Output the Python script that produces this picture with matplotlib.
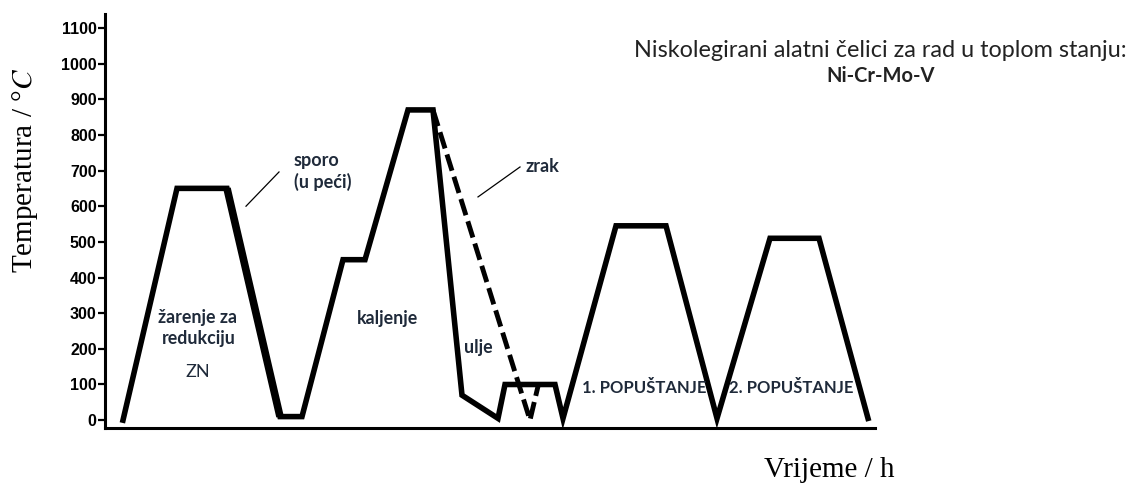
import matplotlib
matplotlib.use("Agg")
import matplotlib.pyplot as plt

# temperature profile (time in arbitrary h, temperature in °C)
time_h = [1.8, 7.2, 12.2, 17.5, 19.7, 23.8, 26.0, 30.3, 32.8, 35.7, 39.3,
          40.0, 45.0, 45.8, 51.1, 56.1, 61.2, 66.5, 71.4, 76.3]
temp_c = [0, 650, 650, 10, 10, 450, 450, 870, 870, 70, 5,
          100, 100, 5, 545, 545, 5, 510, 510, 5]

# air cooling branch (dashed)
zrak_h = [32.8, 42.5, 43.3]
zrak_c = [870, 0, 95]

yticks = list(range(0, 1101, 100))

txt_col = "#1f2a3a"
sans = ["Lato", "DejaVu Sans"]
serif = ["Liberation Serif", "DejaVu Serif"]

plt.rcParams["mathtext.fontset"] = "stix"

fig = plt.figure(figsize=(11.38, 4.91), dpi=100)
ax = fig.add_axes([105 / 1138, 63 / 491, 770 / 1138, 414 / 491])

ax.plot(time_h, temp_c, color="black", lw=4, solid_joinstyle="miter", clip_on=False)
# furnace cooling leg is drawn heavier in the original
ax.plot(time_h[2:4], temp_c[2:4], color="black", lw=5.5,
        solid_capstyle="butt", clip_on=False)
ax.plot(zrak_h, zrak_c, color="black", lw=3.5, linestyle=(0, (3.5, 1.3)), clip_on=False)

ax.set_xlim(0, 77)
ax.set_ylim(-22, 1139)
ax.set_xticks([])
ax.set_yticks(yticks)
ax.set_yticklabels([str(v) for v in yticks], fontweight="bold",
                   fontsize=11.5, family=["Liberation Sans", "DejaVu Sans"])
ax.tick_params(axis="y", length=5, width=1.6, pad=1)
for s in ["top", "right"]:
    ax.spines[s].set_visible(False)
ax.spines["left"].set_linewidth(2.2)
ax.spines["bottom"].set_linewidth(2.2)

# annotations
ax.text(18.9, 727, "sporo", fontsize=13, fontweight="bold", color=txt_col,
        family=sans, va="center")
ax.text(18.9, 668, "(u peći)", fontsize=13, fontweight="bold", color=txt_col,
        family=sans, va="center")
ax.plot([14.1, 17.4], [600, 696], color="black", lw=0.9)

ax.text(42.0, 712, "zrak", fontsize=13, fontweight="bold", color=txt_col,
        family=sans, va="center")
ax.plot([37.3, 41.5], [626, 710], color="black", lw=0.9)

ax.text(9.3, 289, "žarenje za", fontsize=12.8, fontweight="bold", color=txt_col,
        family=sans, ha="center", va="center")
ax.text(9.4, 230, "redukciju", fontsize=12.8, fontweight="bold", color=txt_col,
        family=sans, ha="center", va="center")
ax.text(9.3, 135, "ZN", fontsize=13, color=txt_col, family=sans,
        ha="center", va="center")
ax.text(28.2, 286, "kaljenje", fontsize=12.8, fontweight="bold", color=txt_col,
        family=sans, ha="center", va="center")
ax.text(37.3, 205, "ulje", fontsize=12.8, fontweight="bold", color=txt_col,
        family=sans, ha="center", va="center")
ax.text(53.9, 90, "1. POPUŠTANJE", fontsize=12, fontweight="bold", color=txt_col,
        family=sans, ha="center", va="center")
ax.text(68.6, 90, "2. POPUŠTANJE", fontsize=12, fontweight="bold", color=txt_col,
        family=sans, ha="center", va="center")

fig.text(0.774, 0.898, "Niskolegirani alatni čelici za rad u toplom stanju:",
         fontsize=16.8, color="#222222", family=sans, ha="center", va="center")
fig.text(0.774, 0.845, "Ni-Cr-Mo-V", fontsize=14.5, fontweight="bold",
         color="#222222", family=sans, ha="center", va="center")

fig.text(0.022, 0.652, "Temperatura / °$C$", rotation=90, fontsize=21,
         family=serif, ha="center", va="center")
fig.text(0.729, 0.043, "Vrijeme / h", fontsize=21, family=serif,
         ha="center", va="center")

fig.savefig("out.png", dpi=100)
